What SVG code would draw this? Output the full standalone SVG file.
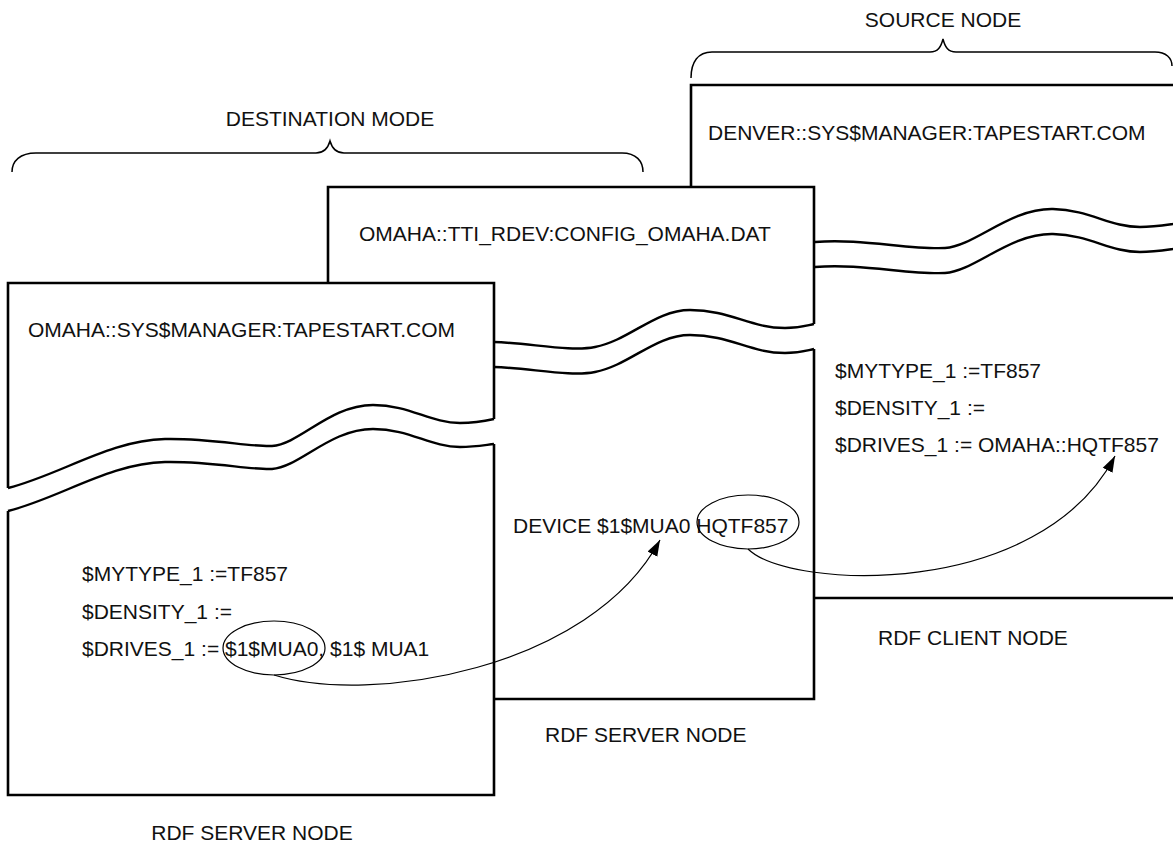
<svg xmlns="http://www.w3.org/2000/svg" width="1173" height="844" viewBox="0 0 1173 844">
<defs>
<style>
.t{font-family:"Liberation Sans",Arial,sans-serif;font-size:21px;fill:#111}
.bg{fill:#fff;stroke:none}
.edge{fill:none;stroke:#000;stroke-width:2.6;stroke-linejoin:miter}
.wave{fill:none;stroke:#000;stroke-width:2.4}
.brace{fill:none;stroke:#000;stroke-width:1.5}
.ann{fill:none;stroke:#000;stroke-width:1.2}
</style>
<marker id="ah" markerUnits="userSpaceOnUse" markerWidth="18" markerHeight="14" refX="16" refY="7" orient="auto">
<path d="M0,1.5 L16,7 L0,12.5 Z" fill="#000"/>
</marker>
</defs>
<rect width="1173" height="844" fill="#fff"/>

<g id="labels">
<text class="t" x="943" y="27" text-anchor="middle">SOURCE NODE</text>
<path class="brace" d="M691,78 C691,62 698,52 712,52 L930,52 C938,52 941,47 943,39 C945,47 948,52 956,52 L1155,52 C1166,52 1172,58 1172,66"/>
<text class="t" x="330" y="126" text-anchor="middle">DESTINATION MODE</text>
<path class="brace" d="M12,172 C12,161 20,153 36,153 L316,153 C324,153 328,148 330,141 C332,148 336,153 344,153 L622,153 C636,153 643,161 643,172"/>
</g>

<g id="source-node">
<rect class="bg" x="691" y="85" width="490" height="513"/>
<path class="edge" d="M691,250 L691,85 L1180,85"/>
<path class="edge" d="M691,275 L691,598 L1180,598"/>
<path class="wave" d="M691,243 L815,242 C860,238 910,250 945,248 C975,246 1010,208 1053,209 C1090,210 1110,227 1140,227 C1155,227 1165,225 1180,223"/>
<path class="wave" d="M691,268 L815,267 C860,263 910,275 945,273 C975,271 1010,233 1053,234 C1090,235 1110,252 1140,252 C1155,252 1165,250 1180,248"/>
<text class="t" x="708" y="140">DENVER::SYS$MANAGER:TAPESTART.COM</text>
<text class="t" x="835" y="378">$MYTYPE_1 :=TF857</text>
<text class="t" x="835" y="415">$DENSITY_1 :=</text>
<text class="t" x="835" y="452">$DRIVES_1 := OMAHA::HQTF857</text>
<text class="t" x="878" y="645">RDF CLIENT NODE</text>
</g>

<g id="server-node-2">
<rect class="bg" x="328" y="187" width="486" height="512"/>
<path class="edge" d="M328,345 L328,187 L814,187 L814,324"/>
<path class="edge" d="M328,370 L328,699 L814,699 L814,349"/>
<path class="wave" d="M328,345 C400,340 460,341 494,342 C530,343 570,352 595,347 C630,340 655,310 690,310 C730,310 750,328 785,328 C800,328 808,325 814,324"/>
<path class="wave" d="M328,370 C400,365 460,366 494,367 C530,368 570,377 595,372 C630,365 655,335 690,335 C730,335 750,353 785,353 C800,353 808,350 814,349"/>
<text class="t" x="359" y="241">OMAHA::TTI_RDEV:CONFIG_OMAHA.DAT</text>
<text class="t" x="513" y="533">DEVICE $1$MUA0 HQTF857</text>
<text class="t" x="545" y="742">RDF SERVER NODE</text>
</g>

<g id="server-node-1">
<rect class="bg" x="8" y="283" width="486" height="512"/>
<path class="edge" d="M8,488 L8,283 L494,283 L494,419"/>
<path class="edge" d="M8,511 L8,795 L494,795 L494,444"/>
<path class="wave" d="M8,488 C60,475 110,440 165,439 C210,438 250,447 272,446 C300,444 330,405 373,405 C410,405 430,423 460,423 C475,423 485,421 494,419"/>
<path class="wave" d="M8,511 C60,498 110,463 165,462 C210,461 250,470 272,469 C300,467 330,429 373,429 C410,429 430,447 460,447 C475,447 485,445 494,444"/>
<text class="t" x="28" y="337">OMAHA::SYS$MANAGER:TAPESTART.COM</text>
<text class="t" x="82" y="581">$MYTYPE_1 :=TF857</text>
<text class="t" x="82" y="619">$DENSITY_1 :=</text>
<text class="t" x="82" y="656">$DRIVES_1 := $1$MUA0, $1$ MUA1</text>
<text class="t" x="252" y="840" text-anchor="middle">RDF SERVER NODE</text>
</g>

<g id="connectors">
<ellipse class="ann" cx="274" cy="648" rx="51" ry="27"/>
<ellipse class="ann" cx="748" cy="522" rx="51" ry="27"/>
<path class="ann" d="M274,675 C370,705 590,670 660,540" marker-end="url(#ah)"/>
<path class="ann" d="M748,549 C790,590 1040,600 1115,456" marker-end="url(#ah)"/>
</g>
</svg>
